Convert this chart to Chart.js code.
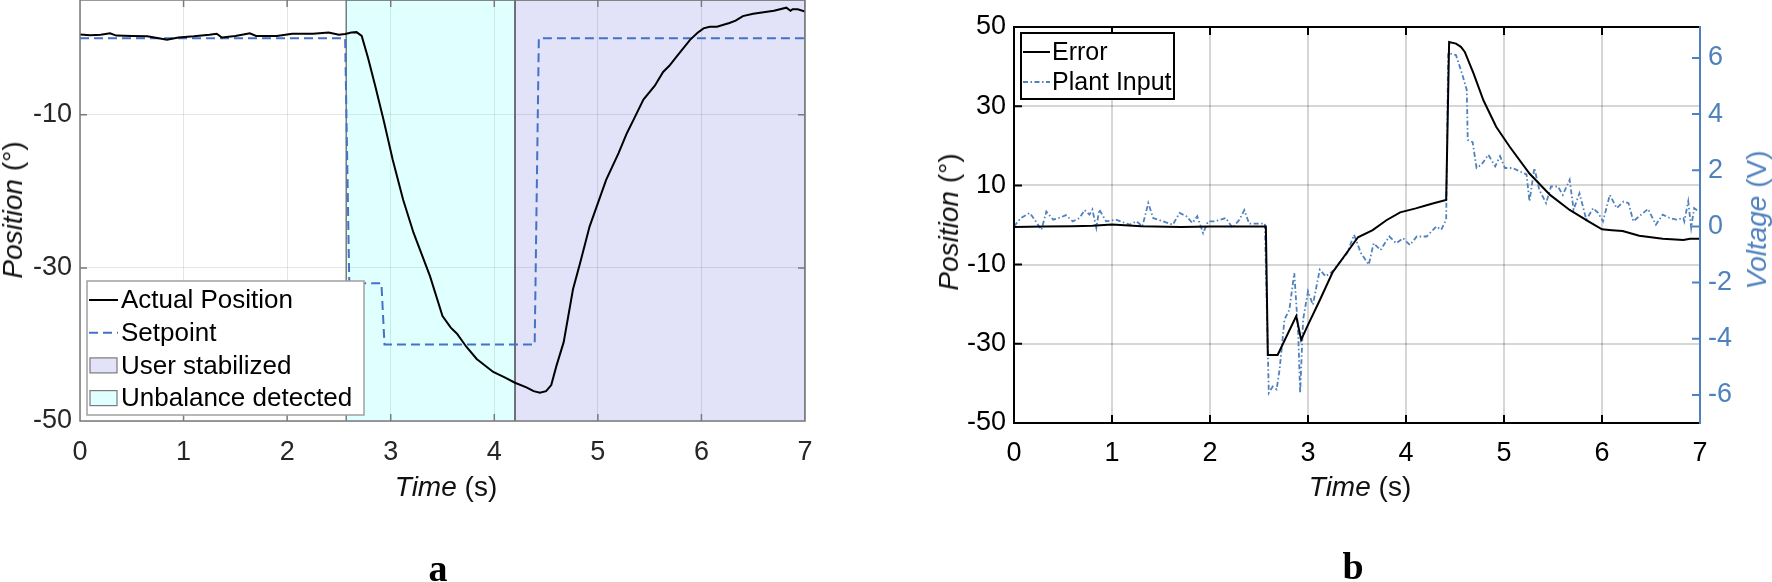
<!DOCTYPE html>
<html lang="en">
<head>
<meta charset="UTF-8">
<title>Position tracking and error</title>
<script src="https://cdn.jsdelivr.net/npm/chart.js"></script>
<style>
    body {
        margin: 0;
        width: 1772px;
        height: 582px;
        position: relative;
        overflow: hidden;
        background: #fff;
        font-family: "Liberation Sans", Arial, sans-serif;
    }

    canvas {
        position: absolute;
        top: 0;
    }

    #chartA { left: 0; }
    #chartB { left: 880px; }

    .lbl {
        position: absolute;
        font-size: 28px;
        color: #111;
        white-space: nowrap;
        transform: translate(-50%, -50%);
    }

    .rot { transform: translate(-50%, -50%) rotate(-90deg); }

    .panel {
        position: absolute;
        font-family: "Liberation Serif", "Times New Roman", serif;
        font-weight: bold;
        font-size: 38px;
        transform: translate(-50%, -50%);
    }
</style>
</head>
<body>
<canvas id="chartA" width="830" height="480"></canvas>
<canvas id="chartB" width="892" height="480"></canvas>

<div class="lbl rot" style="left:13px; top:210px;"><i>Position</i> (°)</div>
<div class="lbl" style="left:446px; top:487px;"><i>Time</i> (s)</div>
<div class="lbl rot" style="left:949px; top:222px;"><i>Position</i> (°)</div>
<div class="lbl" style="left:1360px; top:487px;"><i>Time</i> (s)</div>
<div class="lbl rot" style="left:1757px; top:220px; color:#4f81bd;"><i>Voltage</i> (V)</div>
<div class="panel" style="left:438px; top:568px;">a</div>
<div class="panel" style="left:1353px; top:566px;">b</div>

<script>
    // ---- panel a ----
    const timeTicks = [0, 1, 2, 3, 4, 5, 6, 7];
    const posTicksA = [-50, -30, -10];

    const tActual = [0, 0.1, 0.2, 0.29, 0.35, 0.5, 0.65, 0.84, 0.95, 1.1, 1.25, 1.32, 1.37, 1.5, 1.64,
        1.7, 1.9, 2.05, 2.25, 2.4, 2.5, 2.56, 2.62, 2.67, 2.72, 2.78, 2.85, 2.93, 3.02, 3.12,
        3.22, 3.38, 3.5, 3.58, 3.64, 3.73, 3.83, 3.99, 4.1, 4.2, 4.31, 4.38, 4.44, 4.5, 4.55,
        4.6, 4.67, 4.76, 4.83, 4.92, 5.08, 5.2, 5.28, 5.35, 5.44, 5.55, 5.63, 5.69, 5.76, 5.89,
        5.96, 6.02, 6.08, 6.15, 6.27, 6.33, 6.4, 6.5, 6.6, 6.7, 6.82, 6.86, 6.88, 6.93, 7.0];
    const actualPosition = [0.5, 0.4, 0.45, 0.65, 0.35, 0.3, 0.25, -0.2, 0.1, 0.25, 0.45, 0.6, 0.1, 0.3, 0.65,
        0.3, 0.3, 0.6, 0.6, 0.75, 0.45, 0.55, 0.75, 0.8, 0.3, -2.5, -6.2, -10.6, -15.9, -21.1,
        -25.4, -31.1, -36.3, -37.8, -38.6, -40.3, -41.9, -43.6, -44.3, -45, -45.6, -46.1, -46.3, -46.1, -45.3,
        -42.8, -39.7, -32.8, -29.3, -24.6, -18.5, -15, -12.4, -10.5, -8.0, -6.2, -4.4, -3.6, -2.4, -0.2,
        0.7, 1.3, 1.5, 1.5, 2.0, 2.3, 2.9, 3.2, 3.4, 3.6, 4.0, 3.6, 3.8, 3.8, 3.5];

    const tSetpoint = [0, 2.56, 2.6, 2.91, 2.94, 4.39, 4.43, 7];
    const setpoint = [0, 0, -32, -32, -40, -40, 0, 0];

    // shaded spans (start / end of each phase)
    const tUnbalance = [2.57, 2.57, 4.2, 4.2];
    const tStabilized = [4.2, 4.2, 7, 7];
    const spanEdges = [-50, 5, 5, -50];

    // ---- panel b ----
    const posTicksB = [-50, -30, -10, 10, 30, 50];
    const voltTicks = [-6, -4, -2, 0, 2, 4, 6];

    const tError = [0, 0.3, 0.6, 0.8, 1.0, 1.3, 1.7, 2.0, 2.3, 2.57, 2.59, 2.69, 2.88, 2.93, 3.0,
        3.12, 3.25, 3.39, 3.51, 3.66, 3.8, 3.94, 4.1, 4.21, 4.3, 4.41, 4.44, 4.51, 4.56, 4.6,
        4.69, 4.79, 4.92, 5.06, 5.26, 5.47, 5.67, 5.87, 6.0, 6.1, 6.21, 6.38, 6.62, 6.83, 6.9, 7.0];
    const errorPos = [-0.5, -0.4, -0.3, -0.2, 0.1, -0.3, -0.5, -0.4, -0.4, -0.4, -32.8, -32.8, -23, -29, -25.2,
        -19, -12, -7.2, -3.1, -1.3, 1.2, 3.2, 4.2, 5.0, 5.6, 6.3, 46.2, 45.8, 45, 43.7,
        38.2, 31.5, 24.8, 19.7, 13, 7.6, 3.8, 0.8, -1.1, -1.3, -1.5, -2.7, -3.5, -3.8, -3.5, -3.5];

    const tInput = [0, 0.07, 0.16, 0.21, 0.28, 0.33, 0.4, 0.46, 0.53, 0.6,
        0.67, 0.72, 0.77, 0.8, 0.84, 0.87, 0.94, 1.04, 1.18, 1.25,
        1.31, 1.37, 1.42, 1.52, 1.62, 1.69, 1.76, 1.82, 1.87, 1.93,
        1.98, 2.04, 2.11, 2.16, 2.23, 2.3, 2.35, 2.4, 2.47, 2.56,
        2.6, 2.64, 2.68, 2.71, 2.76, 2.81, 2.86, 2.9, 2.92, 2.95,
        3.0, 3.05, 3.12, 3.18, 3.25, 3.32, 3.4, 3.47, 3.54, 3.62,
        3.67, 3.74, 3.83, 3.9, 3.97, 4.04, 4.11, 4.21, 4.31, 4.36,
        4.41, 4.43, 4.51, 4.57, 4.62, 4.63, 4.68, 4.72, 4.77, 4.84,
        4.91, 4.96, 5.01, 5.09, 5.16, 5.23, 5.26, 5.31, 5.36, 5.43,
        5.48, 5.55, 5.6, 5.67, 5.71, 5.77, 5.84, 5.91, 5.96, 6.01,
        6.08, 6.15, 6.22, 6.27, 6.32, 6.38, 6.47, 6.55, 6.62, 6.69,
        6.76, 6.83, 6.84, 6.88, 6.91, 6.94, 6.99];
    const plantInput = [0.0, 0.3, 0.48, 0.24, -0.12, 0.53, 0.24, 0.3, 0.4, 0.18,
        0.3, 0.58, 0.42, 0.6, -0.05, 0.6, 0.18, 0.24, 0.06, 0.18,
        0.0, 0.83, 0.3, 0.18, 0.06, 0.48, 0.36, 0.12, 0.36, -0.24,
        0.18, 0.18, 0.24, 0.3, -0.05, 0.24, 0.58, 0.1, 0.1, 0.1,
        -5.93, -5.7, -5.8, -5.1, -3.32, -2.96, -1.66, -3.8, -5.93, -3.32,
        -2.31, -2.79, -1.54, -1.78, -1.6, -1.3, -0.95, -0.3, -0.95, -1.36,
        -0.6, -0.84, -0.36, -0.6, -0.42, -0.66, -0.36, -0.36, 0.0, -0.12,
        0.24, 6.17, 6.1, 5.46, 4.86, 3.08, 3.0, 2.08, 2.2, 2.55,
        2.14, 2.5, 2.08, 2.08, 1.96, 1.85, 0.89, 2.08, 1.3, 0.83,
        1.42, 1.42, 1.12, 1.66, 0.6, 1.18, 0.24, 0.65, 0.48, 0.18,
        1.12, 0.65, 0.89, 0.83, 0.18, 0.36, 0.62, 0.06, 0.42, 0.3,
        0.24, 0.3, 0.18, 0.89, -0.05, 0.65, 0.53];

    const BLUE = '#4f81bd';
    const SET_BLUE = '#4472c4';

    const toPoints = (xs, ys) => xs.map((x, i) => ({ x: x, y: ys[i] }));
    const fixedTicks = list => scale => { scale.ticks = list.map(v => ({ value: v })); };

    // matlab-like box with inward ticks
    const boxAxes = {
        id: 'boxAxes',
        afterDatasetsDraw(chart, args, o) {
            const { ctx, chartArea: a, scales } = chart;
            const len = o.tickLength;
            ctx.save();
            ctx.lineWidth = o.lineWidth;
            ctx.strokeStyle = o.color;
            ctx.beginPath();
            scales.x.ticks.forEach(t => {
                const px = scales.x.getPixelForValue(t.value);
                ctx.moveTo(px, a.bottom); ctx.lineTo(px, a.bottom - len);
                ctx.moveTo(px, a.top); ctx.lineTo(px, a.top + len);
            });
            scales.y.ticks.forEach(t => {
                const py = scales.y.getPixelForValue(t.value);
                ctx.moveTo(a.left, py); ctx.lineTo(a.left + len, py);
                if (!o.rightScale) { ctx.moveTo(a.right, py); ctx.lineTo(a.right - len, py); }
            });
            ctx.moveTo(a.right, a.top); ctx.lineTo(a.left, a.top);
            ctx.lineTo(a.left, a.bottom); ctx.lineTo(a.right, a.bottom);
            if (!o.rightScale) ctx.lineTo(a.right, a.top);
            ctx.stroke();

            if (o.rightScale) {
                const s = scales[o.rightScale];
                ctx.strokeStyle = o.rightColor;
                ctx.beginPath();
                s.ticks.forEach(t => {
                    const py = s.getPixelForValue(t.value);
                    ctx.moveTo(a.right, py); ctx.lineTo(a.right - len, py);
                });
                ctx.moveTo(a.right, a.top - o.lineWidth / 2); ctx.lineTo(a.right, a.bottom + o.lineWidth / 2);
                ctx.stroke();
            }
            ctx.restore();
        }
    };

    // legend in a framed box inside the plot
    const boxLegend = {
        id: 'boxLegend',
        afterDraw(chart, args, o) {
            const ctx = chart.ctx;
            const [x0, y0, x1, y1] = o.box;
            ctx.save();
            ctx.fillStyle = '#fff';
            ctx.fillRect(x0, y0, x1 - x0, y1 - y0);
            ctx.lineWidth = o.borderWidth;
            ctx.strokeStyle = o.borderColor;
            ctx.strokeRect(x0, y0, x1 - x0, y1 - y0);
            ctx.font = o.font;
            ctx.textBaseline = 'middle';
            o.order.forEach((idx, i) => {
                const ds = chart.data.datasets[idx];
                const y = y0 + o.firstRow + i * o.rowGap;
                if (ds.fill) {
                    const w = o.sample[1] - o.sample[0] - 2, h = 15;
                    ctx.fillStyle = '#fff';
                    ctx.fillRect(x0 + o.sample[0] + 1, y - h / 2, w, h);
                    ctx.fillStyle = ds.backgroundColor;
                    ctx.fillRect(x0 + o.sample[0] + 1, y - h / 2, w, h);
                    ctx.lineWidth = 1.2;
                    ctx.strokeStyle = '#7a7a7a';
                    ctx.strokeRect(x0 + o.sample[0] + 1, y - h / 2, w, h);
                } else {
                    ctx.setLineDash(ds.borderDash || []);
                    ctx.lineWidth = ds.borderWidth;
                    ctx.strokeStyle = ds.borderColor;
                    ctx.beginPath();
                    ctx.moveTo(x0 + o.sample[0], y);
                    ctx.lineTo(x0 + o.sample[1], y);
                    ctx.stroke();
                    ctx.setLineDash([]);
                }
                ctx.fillStyle = '#000';
                ctx.fillText(ds.label, x0 + o.textX, y + 1);
            });
            ctx.restore();
        }
    };

    const tickFont = { family: '"Liberation Sans", Arial, sans-serif', size: 27 };

    // ---------- chart a ----------
    new Chart(document.getElementById('chartA'), {
        type: 'line',
        data: {
            datasets: [{
                label: 'Actual Position',
                data: toPoints(tActual, actualPosition),
                borderColor: '#000',
                borderWidth: 2,
                pointRadius: 0,
                order: 0
            }, {
                label: 'Setpoint',
                data: toPoints(tSetpoint, setpoint),
                borderColor: SET_BLUE,
                borderWidth: 2,
                borderDash: [9, 5],
                pointRadius: 0,
                order: 1
            }, {
                label: 'User stabilized',
                data: toPoints(tStabilized, spanEdges),
                fill: { value: -50 },
                backgroundColor: 'rgba(0, 0, 205, 0.115)',
                borderColor: '#5a5a5a',
                borderWidth: 1.2,
                pointRadius: 0,
                order: 3
            }, {
                label: 'Unbalance detected',
                data: toPoints(tUnbalance, spanEdges),
                fill: { value: -50 },
                backgroundColor: 'rgba(0, 255, 255, 0.12)',
                borderColor: '#5a5a5a',
                borderWidth: 1.2,
                pointRadius: 0,
                order: 3
            }]
        },
        options: {
            responsive: false,
            animation: false,
            events: [],
            layout: { padding: { top: 0, right: 25, left: 0, bottom: 0 } },
            scales: {
                x: {
                    type: 'linear',
                    min: 0,
                    max: 7,
                    afterBuildTicks: fixedTicks(timeTicks),
                    afterFit: s => { s.height = 59; },
                    grid: { color: 'rgba(0,0,0,0.1)', lineWidth: 1, drawTicks: false },
                    border: { display: false },
                    ticks: { font: tickFont, color: '#262626', padding: 15, maxRotation: 0, autoSkip: false }
                },
                y: {
                    type: 'linear',
                    min: -50,
                    max: 5,
                    afterBuildTicks: fixedTicks(posTicksA),
                    afterFit: s => { s.width = 80; s.paddingTop = 0; },
                    grid: { color: 'rgba(0,0,0,0.1)', lineWidth: 1, drawTicks: false },
                    border: { display: false },
                    ticks: { font: tickFont, color: '#262626', padding: 8 }
                }
            },
            plugins: {
                legend: { display: false },
                tooltip: { enabled: false },
                boxAxes: { color: '#7a7a7a', lineWidth: 1.5, tickLength: 7 },
                boxLegend: {
                    box: [87, 281, 364, 415],
                    borderColor: '#a0a0a0',
                    borderWidth: 1.5,
                    font: '26px "Liberation Sans", Arial, sans-serif',
                    order: [0, 1, 2, 3],
                    firstRow: 19,
                    rowGap: 32.7,
                    sample: [2, 31],
                    textX: 34
                }
            }
        },
        plugins: [boxAxes, boxLegend]
    });

    // ---------- chart b ----------
    new Chart(document.getElementById('chartB'), {
        type: 'line',
        data: {
            datasets: [{
                label: 'Error',
                data: toPoints(tError, errorPos),
                borderColor: '#000',
                borderWidth: 2,
                pointRadius: 0,
                yAxisID: 'y',
                order: 0
            }, {
                label: 'Plant Input',
                data: toPoints(tInput, plantInput),
                borderColor: BLUE,
                borderWidth: 1.8,
                borderDash: [5, 2.5, 1.5, 2.5],
                pointRadius: 0,
                yAxisID: 'y1',
                order: 1
            }]
        },
        options: {
            responsive: false,
            animation: false,
            events: [],
            layout: { padding: { top: 27, right: 0, left: 0, bottom: 0 } },
            scales: {
                x: {
                    type: 'linear',
                    min: 0,
                    max: 7,
                    afterBuildTicks: fixedTicks(timeTicks),
                    afterFit: s => { s.height = 57; },
                    grid: { color: 'rgba(0,0,0,0.16)', lineWidth: 2, drawTicks: false },
                    border: { display: false },
                    ticks: { font: tickFont, color: '#000', padding: 14, maxRotation: 0, autoSkip: false }
                },
                y: {
                    type: 'linear',
                    position: 'left',
                    min: -50,
                    max: 50,
                    afterBuildTicks: fixedTicks(posTicksB),
                    afterFit: s => { s.width = 134; },
                    grid: { color: 'rgba(0,0,0,0.16)', lineWidth: 2, drawTicks: false },
                    border: { display: false },
                    ticks: { font: tickFont, color: '#000', padding: 8 }
                },
                y1: {
                    type: 'linear',
                    position: 'right',
                    min: -7,
                    max: 7.1,
                    afterBuildTicks: fixedTicks(voltTicks),
                    afterFit: s => { s.width = 72; },
                    grid: { display: false, drawTicks: false },
                    border: { display: false },
                    ticks: { font: tickFont, color: BLUE, padding: 8 }
                }
            },
            plugins: {
                legend: { display: false },
                tooltip: { enabled: false },
                boxAxes: { color: '#000', lineWidth: 2, tickLength: 8, rightScale: 'y1', rightColor: BLUE },
                boxLegend: {
                    box: [141, 33, 294, 99],
                    borderColor: '#000',
                    borderWidth: 2,
                    font: '25px "Liberation Sans", Arial, sans-serif',
                    order: [0, 1],
                    firstRow: 19,
                    rowGap: 30,
                    sample: [2, 29],
                    textX: 31
                }
            }
        },
        plugins: [boxAxes, boxLegend]
    });
</script>
</body>
</html>
